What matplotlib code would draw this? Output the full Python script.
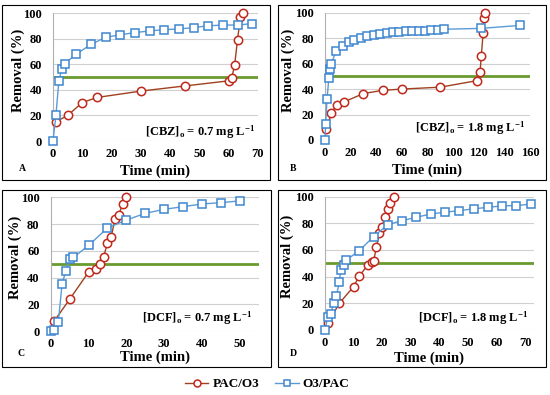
import matplotlib
matplotlib.use("Agg")
import matplotlib.pyplot as plt
from matplotlib.patches import Rectangle
from matplotlib.lines import Line2D

plt.rcParams['font.family'] = ['Liberation Serif', 'DejaVu Serif']
plt.rcParams['font.weight'] = 'bold'
plt.rcParams['mathtext.fontset'] = 'custom'
plt.rcParams['mathtext.rm'] = 'Liberation Serif:bold'
plt.rcParams['mathtext.bf'] = 'Liberation Serif:bold'
plt.rcParams['mathtext.default'] = 'bf'

# Panel A: [CBZ]o = 0.7 mg/L
a_pac_t = [1, 5, 10, 15, 30, 45, 60, 61, 62, 63, 64, 65]
a_pac_r = [15, 20, 30, 34, 39, 43, 47, 49, 59, 79, 97, 100]
a_o3_t = [0, 1, 2, 3, 4, 8, 13, 18, 23, 28, 33, 38, 43, 48, 53, 58, 63, 68]
a_o3_r = [0, 20, 47, 56, 60.5, 68, 75.5, 81, 83, 84.7, 86, 87, 87.5, 88.6, 90, 90.6, 90.6, 91.7]

# Panel B: [CBZ]o = 1.8 mg/L
b_pac_t = [1, 5, 9, 15, 30, 45, 60, 90, 118.5, 121, 122, 123.4, 124, 124.5]
b_pac_r = [9, 21, 27.5, 30, 36.5, 39, 40, 41.5, 46.6, 53.4, 66, 84, 95.5, 99.5]
b_o3_t = [0, 0.5, 1.6, 3, 4, 5, 8.6, 14, 19, 23, 28, 33, 38, 43, 48, 53, 58, 63,
          68, 73, 78, 83, 88, 93, 122, 152]
b_o3_r = [0, 12.6, 32, 49, 55.5, 60, 70, 74, 77, 78.5, 80, 81.4, 82.7, 83.5, 84.3,
          84.6, 85, 85.3, 85.6, 86, 86, 86.4, 86.6, 87, 87.7, 90]

# Panel C: [DCF]o = 0.7 mg/L
c_pac_t = [1, 5, 10, 12, 13, 14, 15, 16, 17, 18, 19, 20]
c_pac_r = [7.7, 23.7, 44, 46.6, 50, 55.6, 65.6, 70.6, 83.5, 86.8, 95, 100]
c_o3_t = [0, 1, 2, 3, 4, 5, 6, 10, 15, 20, 25, 30, 35, 40, 45, 50]
c_o3_r = [0, 1, 6.5, 35, 45, 54, 55, 64, 77, 83, 88, 91, 93, 95, 96, 97.3]

# Panel D: [DCF]o = 1.8 mg/L
d_pac_t = [1, 5, 10, 12, 15, 16.3, 17, 18, 19, 20, 21, 22, 22.9, 24]
d_pac_r = [5, 20, 32.5, 40.5, 48.8, 50.8, 51.8, 62, 72.5, 77.5, 84.5, 91, 95.5, 100]
d_o3_t = [0, 1, 2, 3, 4, 5, 5.5, 6.5, 7.5, 12, 17, 22, 27, 32, 37, 42, 47, 52,
          57, 62, 67, 72]
d_o3_r = [0, 10, 12, 20, 25.5, 36, 45, 49, 52.5, 59.5, 70, 79, 82, 84.5, 87, 88.3,
          89.5, 90.8, 92, 93, 93.3, 94.3]

panels = [
    dict(pac=(a_pac_t, a_pac_r), o3=(a_o3_t, a_o3_r), xmax=70, xticks=range(0, 71, 10),
         note=r'[CBZ]$_{o}$ = 0.7 mg L$^{-1}$', letter='A',
         rect=(53, 141, 205, 128), note_xy=(0.985, 0.07), ylab_x=-0.171, xlab_y=-0.234,
         box=(2, 5, 268, 175), letter_xy=(22, 168)),
    dict(pac=(b_pac_t, b_pac_r), o3=(b_o3_t, b_o3_r), xmax=160, xticks=range(0, 161, 20),
         note=r'[CBZ]$_{o}$ = 1.8 mg L$^{-1}$', letter='B',
         rect=(325, 140, 205, 127.3), note_xy=(0.976, 0.094), ylab_x=-0.18, xlab_y=-0.236,
         box=(278, 5, 268, 175), letter_xy=(293, 168)),
    dict(pac=(c_pac_t, c_pac_r), o3=(c_o3_t, c_o3_r), xmax=55, xticks=range(0, 51, 10),
         note=r'[DCF]$_{o}$ = 0.7 mg L$^{-1}$', letter='C',
         rect=(50.7, 331, 208, 133.7), note_xy=(0.968, 0.097), ylab_x=-0.172, xlab_y=-0.2,
         box=(2, 190, 269, 177), letter_xy=(21, 354)),
    dict(pac=(d_pac_t, d_pac_r), o3=(d_o3_t, d_o3_r), xmax=73, xticks=range(0, 71, 10),
         note=r'[DCF]$_{o}$ = 1.8 mg L$^{-1}$', letter='D',
         rect=(325, 330, 208.6, 133.4), note_xy=(0.973, 0.09), ylab_x=-0.18, xlab_y=-0.21,
         box=(278, 190, 268, 177), letter_xy=(293, 354)),
]

W, H = 550, 395
pac_line = '#A0401E'
pac_edge = '#C0281C'
o3_line = '#5B9BD5'
o3_edge = '#3F86D0'
green = '#6A9B2F'

fig = plt.figure(figsize=(W / 100, H / 100), dpi=100)

for p in panels:
    x0, y0, w, h = p['rect']
    ax = fig.add_axes([x0 / W, (H - y0) / H, w / W, h / H])
    ax.set_xlim(0, p['xmax'])
    ax.set_ylim(0, 100)
    ax.set_yticks(range(0, 101, 20))
    ax.set_xticks(list(p['xticks']))
    ax.grid(axis='y', color='#d0d0d0', linewidth=0.8)
    ax.set_axisbelow(True)
    for s in ['top', 'right', 'bottom']:
        ax.spines[s].set_visible(False)
    ax.spines['left'].set_color('#b0b0b0')
    ax.spines['left'].set_linewidth(0.8)
    ax.tick_params(length=0, labelsize=9)
    ax.tick_params(axis='y', pad=8)
    ax.tick_params(axis='x', pad=5)
    for lab in ax.get_xticklabels() + ax.get_yticklabels():
        lab.set_fontweight('bold')

    ax.axhline(50, color=green, linewidth=2, zorder=2)
    ax.plot(*p['pac'], color=pac_line, linewidth=1, marker='o', markersize=6,
            markerfacecolor='white', markeredgecolor=pac_edge, markeredgewidth=1.1,
            clip_on=False, zorder=3)
    ax.plot(*p['o3'], color=o3_line, linewidth=1, marker='s', markersize=6,
            markerfacecolor='white', markeredgecolor=o3_edge, markeredgewidth=1.1,
            clip_on=False, zorder=4)

    ax.text(p['note_xy'][0], p['note_xy'][1], p['note'], transform=ax.transAxes,
            ha='right', va='center', fontsize=9, fontweight='bold')
    ax.text(0.5, p['xlab_y'], 'Time (min)', transform=ax.transAxes,
            ha='center', va='center', fontsize=10.5, fontweight='bold')
    ax.text(p['ylab_x'], 0.55, 'Removal (%)', transform=ax.transAxes, rotation=90,
            ha='center', va='center', fontsize=10.5, fontweight='bold')

    bx, by, bw, bh = p['box']
    fig.patches.append(Rectangle((bx / W, (H - by - bh) / H), bw / W, bh / H,
                                 transform=fig.transFigure, fill=False,
                                 edgecolor='black', linewidth=0.8))
    fig.text(p['letter_xy'][0] / W, (H - p['letter_xy'][1]) / H, p['letter'],
             ha='center', va='center', fontsize=7, fontweight='bold')

handles = [
    Line2D([], [], color=pac_line, linewidth=1, marker='o', markersize=5,
           markerfacecolor='white', markeredgecolor=pac_edge, markeredgewidth=1.1),
    Line2D([], [], color=o3_line, linewidth=1, marker='s', markersize=5,
           markerfacecolor='white', markeredgecolor=o3_edge, markeredgewidth=1.1),
]
fig.legend(handles, ['PAC/O3', 'O3/PAC'], loc='center', bbox_to_anchor=(267 / W, 1 - 384 / H),
           ncol=2, frameon=False, handlelength=1.8, handletextpad=0.3,
           columnspacing=1.2, prop={'weight': 'bold', 'size': 9.5})

fig.savefig('out.png', dpi=100)
